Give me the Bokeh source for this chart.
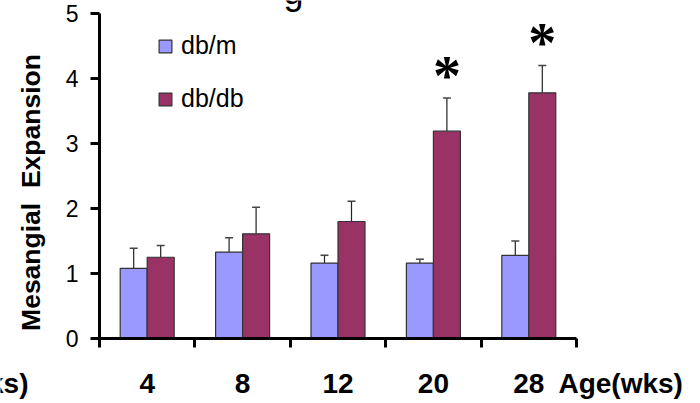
import numpy as np
from bokeh.plotting import figure
from bokeh.models import (ColumnDataSource, Range1d, FixedTicker, Whisker, TeeHead,
                          Label, Legend, LegendItem)
from bokeh.embed import file_html
from bokeh.resources import INLINE

# Mesangial expansion by age, db/m controls vs db/db mice
ages = ["4", "8", "12", "20", "28"]
dbm_mean = [1.08, 1.33, 1.16, 1.16, 1.28]
dbm_err = [0.31, 0.22, 0.12, 0.06, 0.22]
dbdb_mean = [1.25, 1.61, 1.80, 3.19, 3.78]
dbdb_err = [0.18, 0.41, 0.31, 0.51, 0.42]
significant = [False, False, False, True, True]
y_ticks = [0, 1, 2, 3, 4, 5]

FONT = "Liberation Sans"
C_DBM = "#9999FF"
C_DBDB = "#993366"
BAR_W = 0.283
OFF = BAR_W / 2
STAR_GAP = 0.34

centers = np.arange(len(ages)) + 0.5

src_m = ColumnDataSource(dict(
    x=centers - OFF, top=dbm_mean,
    upper=[m + e for m, e in zip(dbm_mean, dbm_err)]))
src_d = ColumnDataSource(dict(
    x=centers + OFF, top=dbdb_mean,
    upper=[m + e for m, e in zip(dbdb_mean, dbdb_err)]))
sig_idx = [i for i, s in enumerate(significant) if s]
src_star = ColumnDataSource(dict(
    x=[centers[i] + OFF for i in sig_idx],
    y=[dbdb_mean[i] + dbdb_err[i] + STAR_GAP for i in sig_idx],
    t=["*"] * len(sig_idx)))

# the plot area spans the whole canvas; axes are pinned at x=0 / y=0
p = figure(width=700, height=403, output_backend="svg", toolbar_location=None,
           x_range=Range1d(-1.0377, 6.2998), y_range=Range1d(-1.0, 5.2),
           min_border_left=0, min_border_right=0,
           min_border_top=0, min_border_bottom=0)
p.outline_line_color = None
p.xgrid.visible = False
p.ygrid.visible = False
p.background_fill_color = "white"
p.border_fill_color = "white"

# bars
r_m = p.vbar(x="x", top="top", width=BAR_W, source=src_m,
             fill_color=C_DBM, line_color="#333333", line_width=1.2)
r_d = p.vbar(x="x", top="top", width=BAR_W, source=src_d,
             fill_color=C_DBDB, line_color="#333333", line_width=1.2)

# upper error bars
for src in (src_m, src_d):
    w = Whisker(base="x", lower="top", upper="upper", source=src, dimension="height",
                line_color="#222222", line_width=1.2, lower_head=None,
                upper_head=TeeHead(size=8, line_color="#444444", line_width=1.5))
    p.add_layout(w)

# significance markers
p.text(x="x", y="y", text="t", source=src_star, text_align="center",
       text_baseline="alphabetic", text_font_size="56px", text_font_style="bold",
       text_font="Liberation Sans", text_color="black")

# y axis
ya = p.yaxis[0]
ya.fixed_location = 0
ya.ticker = FixedTicker(ticks=y_ticks)
ya.bounds = (0, 5)
ya.axis_line_width = 3
ya.axis_line_color = "black"
ya.major_tick_line_width = 3
ya.major_tick_line_color = "black"
ya.major_tick_out = 9
ya.major_tick_in = 0
ya.minor_tick_line_color = None
ya.major_label_text_font = FONT
ya.major_label_text_font_size = "23px"
ya.major_label_text_color = "black"
ya.major_label_standoff = 12

# x axis: labels at group centres, tick marks at group boundaries
xa = p.xaxis[0]
xa.fixed_location = 0
xa.bounds = (0, len(ages))
xa.ticker = FixedTicker(ticks=list(centers), minor_ticks=list(range(len(ages) + 1)))
xa.major_label_overrides = {float(c): a for c, a in zip(centers, ages)}
xa.axis_line_width = 3
xa.axis_line_color = "black"
xa.major_tick_line_color = None
xa.major_tick_out = 0
xa.major_tick_in = 0
xa.minor_tick_line_color = "black"
xa.minor_tick_line_width = 3
xa.minor_tick_out = 9
xa.minor_tick_in = 0
xa.major_label_text_font = FONT
xa.major_label_text_font_size = "28px"
xa.major_label_text_font_style = "bold"
xa.major_label_text_color = "black"
xa.major_label_standoff = 26

# axis titles
p.add_layout(Label(x=-0.723, y=2.246, text="Mesangial\u00a0 Expansion", angle=np.pi / 2,
                   text_align="center", text_baseline="middle", text_font=FONT,
                   text_font_size="26.5px", text_font_style="bold", text_color="black"))
p.add_layout(Label(x=4.811, y=-0.685, text="Age(wks)", text_align="left",
                   text_baseline="alphabetic", text_font=FONT, text_font_size="28px",
                   text_font_style="bold", text_color="black"))
p.add_layout(Label(x=-0.744, y=-0.685, text="Age(wks)", text_align="right",
                   text_baseline="alphabetic", text_font=FONT, text_font_size="28px",
                   text_font_style="bold", text_color="black"))
# title line above the plot area
p.add_layout(Label(x=2.034, y=5.346, text="g", text_align="center",
                   text_baseline="alphabetic", text_font=FONT, text_font_size="36px",
                   text_color="black"))

legend = Legend(items=[LegendItem(label="db/m", renderers=[r_m]),
                       LegendItem(label="db/db", renderers=[r_d])],
                location=(157, 290), orientation="vertical",
                glyph_width=16, glyph_height=16, label_standoff=8,
                label_text_font=FONT, label_text_font_size="25px",
                label_text_color="black", spacing=24, padding=0, margin=0,
                border_line_color=None, background_fill_alpha=0)
p.add_layout(legend)

open("out.html", "w").write(file_html(p, INLINE))
